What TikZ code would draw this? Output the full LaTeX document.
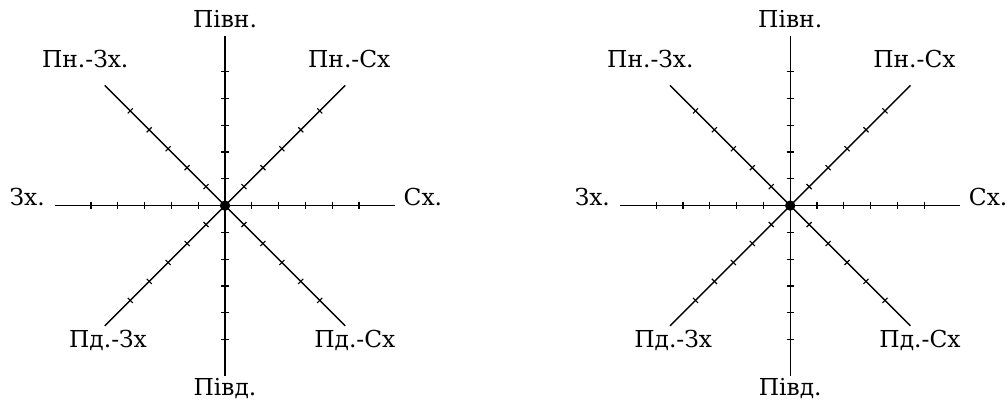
\documentclass[tikz,border=0pt]{standalone}
\usepackage{fontspec}
\setmainfont{DejaVu Serif}
\usetikzlibrary{calc}

\tikzset{
  ray/.style={line width=1pt},
  tickmark/.style={line width=0.8pt},
  dirlabel/.style={font=\fontsize{16.6}{18}\selectfont, inner sep=0pt, anchor=base},
}

\begin{document}
\begin{tikzpicture}
  \useasboundingbox (-5.625,-4.885) rectangle (19.575,5.14);
  \foreach \s/\cx in {L/0, R/14.13} {
    \begin{scope}[xshift=\cx cm]
      \coordinate (\s O) at (0,0);
      \coordinate (\s N) at (90:4.25);
      \coordinate (\s S) at (270:4.25);
      \coordinate (\s E) at (0:4.25);
      \coordinate (\s W) at (180:4.25);
      \coordinate (\s NE) at (45:4.25);
      \coordinate (\s NW) at (135:4.25);
      \coordinate (\s SE) at (315:4.25);
      \coordinate (\s SW) at (225:4.25);
      \draw[ray] (\s O) -- (\s N) node[dirlabel, yshift=0.19cm] (\s lN) {Півн.};
      \draw[ray] (\s O) -- (\s S) node[dirlabel, yshift=-0.5cm] (\s lS) {Півд.};
      \draw[ray] (\s O) -- (\s W) node[dirlabel, anchor=base east, xshift=-0.24cm] (\s lW) {Зх.};
      \draw[ray] (\s O) -- (\s E) node[dirlabel, anchor=base west, xshift=0.2cm] (\s lE) {Сх.};
      \draw[ray] (\s O) -- (\s NW) node[dirlabel, xshift=-0.49cm, yshift=0.44cm] (\s lNW) {Пн.-Зх.};
      \draw[ray] (\s O) -- (\s NE) node[dirlabel, xshift=0.1cm, yshift=0.44cm] (\s lNE) {Пн.-Сх};
      \draw[ray] (\s O) -- (\s SW) node[dirlabel, xshift=0.08cm, yshift=-0.55cm] (\s lSW) {Пд.-Зх};
      \draw[ray] (\s O) -- (\s SE) node[dirlabel, xshift=0.24cm, yshift=-0.55cm] (\s lSE) {Пд.-Сх};
      % ticks on all eight rays
      \foreach \a in {0,45,...,315}
        \foreach \k in {1,...,5}
          \draw[tickmark] ($(\s O)+(\a:\k*0.67)$) ++(\a+90:0.09) -- ++(\a-90:0.18);
      \fill (\s O) circle (0.13);
    \end{scope}
  }
\end{tikzpicture}
\end{document}
